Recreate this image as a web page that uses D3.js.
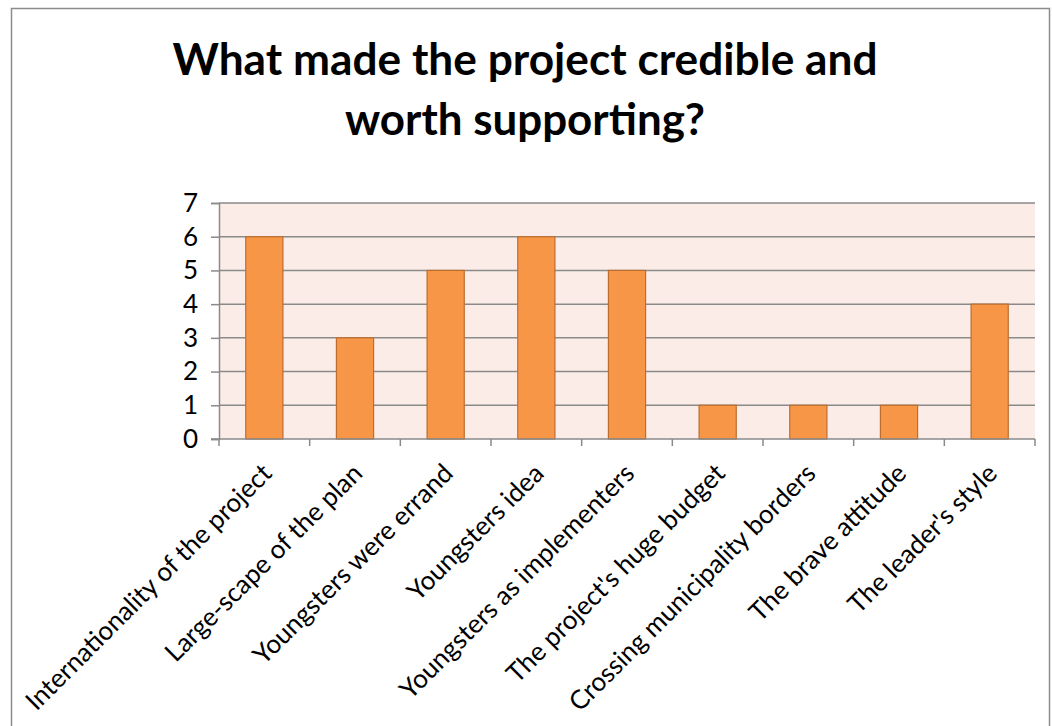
<!DOCTYPE html>
<html>
<head>
<meta charset="utf-8">
<script src="https://cdn.jsdelivr.net/npm/d3@7"></script>
<style>
  html, body { margin: 0; padding: 0; background: #ffffff; }
  svg { display: block; }
</style>
</head>
<body>
<svg id="chart" width="1052" height="726"></svg>
<script>
// Survey answers: what made the project credible and worth supporting
const categories = [
  "Internationality of the project",
  "Large-scape of the plan",
  "Youngsters were errand",
  "Youngsters idea",
  "Youngsters as implementers",
  "The project's huge budget",
  "Crossing municipality borders",
  "The brave attitude",
  "The leader's style"
];
const counts = [6, 3, 5, 6, 5, 1, 1, 1, 4];
const yTicks = [0, 1, 2, 3, 4, 5, 6, 7];
const titleLines = ["What made the project credible and", "worth supporting?"];

const FONT = "Lato, 'Open Sans', 'Liberation Sans', sans-serif";
const svg = d3.select("#chart");

// chart frame
svg.append("rect")
  .attr("x", 11.5).attr("y", 8.5)
  .attr("width", 1038).attr("height", 730)
  .attr("fill", "#ffffff")
  .attr("stroke", "#8c8c8c").attr("stroke-width", 1.5);

// title: two centred bold lines, squeezed to a narrow bold face
const title = svg.append("g").attr("font-family", FONT)
  .attr("font-weight", "bold").attr("fill", "#000");
const titleY = [75, 135];
const titleWidth = [705, 360];
titleLines.forEach((t, i) => title.append("text")
  .attr("x", 525).attr("y", titleY[i])
  .attr("text-anchor", "middle")
  .attr("font-size", 43)
  .attr("textLength", titleWidth[i])
  .attr("lengthAdjust", "spacingAndGlyphs")
  .text(t));

const margin = { left: 219, right: 1035, top: 203, bottom: 439 };

const x = d3.scaleBand()
  .domain(categories)
  .range([margin.left, margin.right])
  .paddingInner(0.59)
  .paddingOuter(0.295);

const y = d3.scaleLinear()
  .domain([0, 7])
  .range([margin.bottom, margin.top]);

// plot background
svg.append("rect")
  .attr("x", margin.left).attr("y", margin.top)
  .attr("width", margin.right - margin.left)
  .attr("height", margin.bottom - margin.top)
  .attr("fill", "#fbece7");

// horizontal gridlines
svg.append("g")
  .selectAll("line")
  .data(yTicks.filter(d => d > 0))
  .join("line")
  .attr("x1", margin.left).attr("x2", margin.right)
  .attr("y1", d => y(d)).attr("y2", d => y(d))
  .attr("stroke", "#8a8a8a").attr("stroke-width", 1.5);

// bars
svg.append("g")
  .selectAll("rect")
  .data(categories)
  .join("rect")
  .attr("x", d => x(d))
  .attr("y", (d, i) => y(counts[i]))
  .attr("width", x.bandwidth())
  .attr("height", (d, i) => y(0) - y(counts[i]))
  .attr("fill", "#f79646")
  .attr("stroke", "#bd6e2e").attr("stroke-width", 1.2);

// label size chosen so the longest category label spans ~335px
const probe = svg.append("text").attr("font-family", FONT).attr("font-size", 20).text(categories[0]);
const labelSize = 20 * 335 / probe.node().getComputedTextLength();
probe.remove();

// y axis
const yAxis = svg.append("g")
  .attr("transform", `translate(${margin.left},0)`)
  .call(d3.axisLeft(y).tickValues(yTicks).tickFormat(d3.format("d")).tickSize(8).tickPadding(13));
yAxis.select(".domain").attr("stroke", "#8a8a8a").attr("stroke-width", 1.5);
yAxis.selectAll(".tick line").attr("stroke", "#8a8a8a").attr("stroke-width", 1.5);
yAxis.selectAll(".tick text")
  .attr("font-family", FONT).attr("font-size", labelSize).attr("fill", "#000");

// x axis: ticks sit on category boundaries
const boundaries = d3.range(categories.length + 1)
  .map(i => margin.left + i * (margin.right - margin.left) / categories.length);
const xAxis = svg.append("g");
xAxis.append("line")
  .attr("x1", margin.left - 8).attr("x2", margin.right)
  .attr("y1", margin.bottom).attr("y2", margin.bottom)
  .attr("stroke", "#8a8a8a").attr("stroke-width", 1.5);
xAxis.selectAll("line.tk")
  .data(boundaries)
  .join("line").attr("class", "tk")
  .attr("x1", d => d).attr("x2", d => d)
  .attr("y1", margin.bottom).attr("y2", margin.bottom + 7)
  .attr("stroke", "#8a8a8a").attr("stroke-width", 1.5);

// rotated category labels
xAxis.selectAll("text")
  .data(categories)
  .join("text")
  .attr("transform", d => `translate(${x(d) + x.bandwidth() / 2 + 9},${margin.bottom + 36}) rotate(-45)`)
  .attr("text-anchor", "end")
  .attr("font-family", FONT).attr("font-size", labelSize).attr("fill", "#000")
  .text(d => d);
</script>
</body>
</html>
